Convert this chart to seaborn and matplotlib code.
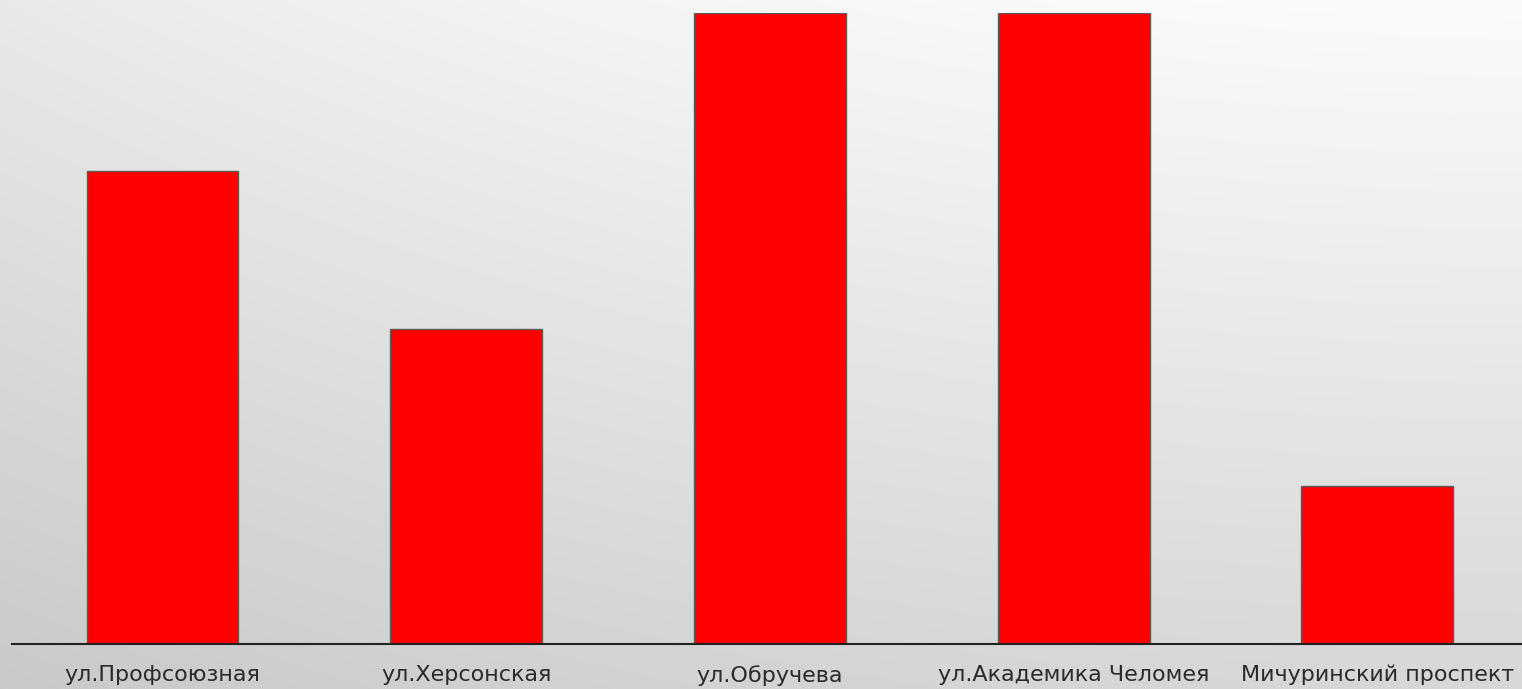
import numpy as np
import pandas as pd
import matplotlib
matplotlib.use("Agg")
import matplotlib.pyplot as plt
import seaborn as sns

# ─── Data ─────────────────────────────────────────────────────────────────────
streets = ["ул.Профсоюзная", "ул.Херсонская", "ул.Обручева",
           "ул.Академика Челомея", "Мичуринский проспект"]
values = [3, 2, 4, 4, 1]

sns.set_style("white")
plt.rcParams["font.family"] = ["DejaVu Sans"]

df = pd.DataFrame({"street": streets, "value": values})

fig = plt.figure(figsize=(15.22, 6.89), dpi=100)

# background: soft gray gradient, light at the top, darker at the bottom left
bg = fig.add_axes([0, 0, 1, 1], zorder=0)
yy, xx = np.mgrid[0:1:200j, 0:1:400j]   # yy = 0 at top
h = 1 - (1 - xx) ** 2
top = 0.91 + 0.07 * h
bottom = 0.785 + 0.055 * h
shade = top + (bottom - top) * yy
bg.imshow(shade, cmap="gray", vmin=0, vmax=1, aspect="auto",
          extent=[0, 1, 0, 1], origin="upper", interpolation="bilinear")
bg.axis("off")

ax = fig.add_axes([12 / 1522, 45 / 689, 1510 / 1522, 631 / 689], zorder=1)
ax.patch.set_alpha(0)

sns.barplot(data=df, x="street", y="value", color="#ff0000", saturation=1,
            width=0.5, edgecolor="#5a5a5a", linewidth=1, ax=ax)

ax.set_xlim(-0.4955, 4.476)
ax.set_ylim(0, 4)
ax.set_xlabel("")
ax.set_ylabel("")
ax.set_yticks([])
ax.tick_params(axis="x", length=0, pad=15, labelsize=16, labelcolor="#2a2a2a")
for side in ["top", "left", "right"]:
    ax.spines[side].set_visible(False)
ax.spines["bottom"].set_color("#222222")
ax.spines["bottom"].set_linewidth(1.5)

plt.savefig("out.png", dpi=100)
plt.close()
